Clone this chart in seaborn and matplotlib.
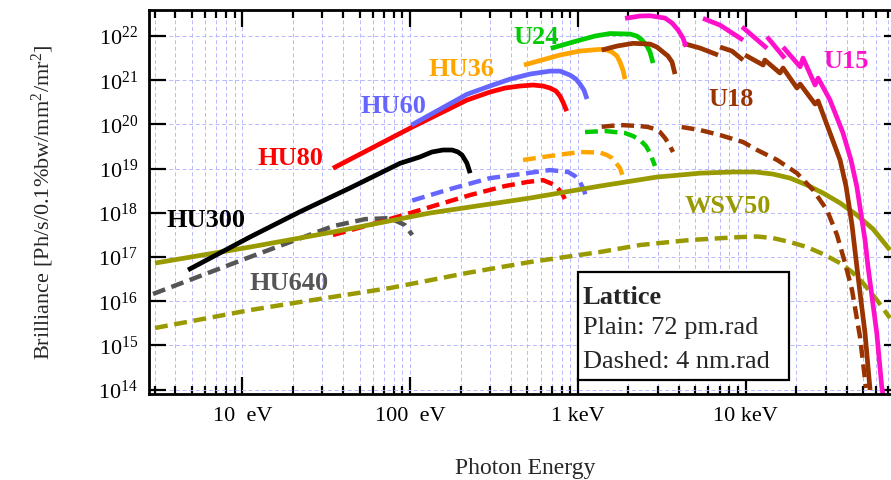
import numpy as np
import pandas as pd
import matplotlib
matplotlib.use("Agg")
import matplotlib.pyplot as plt
import seaborn as sns
from matplotlib.ticker import FixedLocator, FixedFormatter, LogLocator, NullLocator, LogFormatterMathtext
from matplotlib.patches import Rectangle

# ---------------- data (photon energy in eV, brilliance) ----------------
HU300_E = [4.75, 11.1, 22.1, 43.8, 87.1, 114, 135, 157, 178, 193, 204, 218, 228]
HU300_B = [5.1e16, 2.83e17, 1.06e18, 3.64e18, 1.32e19, 1.83e19, 2.38e19, 2.64e19, 2.64e19,
           2.38e19, 2.03e19, 1.34e19, 7.9e18]

HU640_E = [2.94, 11.1, 34.7, 53.9, 75.9, 93.2, 103]
HU640_B = [1.46e16, 1.0e17, 5.0e17, 7.2e17, 7.6e17, 5.3e17, 3.15e17]

HU80_E = [34.7, 104, 218, 299, 368, 452, 540, 620, 682, 740, 782, 815, 858]
HU80_B = [1.02e19, 8.9e19, 3.56e20, 5.4e20, 6.67e20, 7.4e20, 7.8e20, 7.4e20, 6.67e20, 5.7e20,
          4.4e20, 3.2e20, 2.0e20]
HU80d_E = [34.7, 66.2, 115, 228, 368, 498, 620, 730, 804, 858]
HU80d_B = [3.15e17, 6.2e17, 1.16e18, 2.53e18, 4.04e18, 4.98e18, 5.5e18, 4.26e18, 2.8e18, 1.67e18]

HU60_E = [102, 218, 299, 394, 518, 682, 782, 897, 975, 1029, 1087, 1133]
HU60_B = [9.7e19, 4.8e20, 7.4e20, 1.06e21, 1.38e21, 1.61e21, 1.61e21, 1.31e21, 1.06e21, 8.2e20,
          6.0e20, 3.76e20]
HU60d_E = [103, 173, 299, 498, 682, 873, 961, 1029, 1087, 1133]
HU60d_B = [1.9e18, 3.45e18, 6.1e18, 7.9e18, 9.3e18, 8.4e18, 6.8e18, 4.98e18, 3.28e18, 1.95e18]

HU36_E = [477, 782, 1029, 1355, 1490, 1597, 1710, 1782, 1857, 1909]
HU36_B = [2.21e21, 3.72e21, 4.58e21, 5.0e21, 4.82e21, 4.35e21, 3.53e21, 2.58e21, 1.7e21, 1.06e21]
HU36d_E = [471, 682, 1029, 1355, 1490, 1597, 1782, 1883]
HU36d_B = [1.57e19, 1.93e19, 2.38e19, 2.31e19, 2.03e19, 1.74e19, 1.03e19, 5.5e18]

U24_E = [689, 1029, 1264, 1553, 2045, 2250, 2410, 2580, 2690, 2805]
U24_B = [5.27e21, 8.1e21, 1.0e22, 1.14e22, 1.11e22, 1.0e22, 8.1e21, 5.94e21, 4.35e21, 2.45e21]
U24d_E = [1103, 1450, 1909, 2130, 2344, 2545, 2690, 2880]
U24d_B = [6.73e19, 7.1e19, 6.38e19, 5.47e19, 4.44e19, 3.25e19, 2.25e19, 1.15e19]

U18_E = [[1386, 1710, 2130, 2690, 2960, 3215, 3443, 3640, 3790],
         [4230, 5345, 6840],
         [7030, 8280, 9640],
         [9910, 12700, 13000, 16000, 16700, 20200, 21100, 25900, 27000, 31800,
          36500, 39600, 43000, 46000, 48600, 51400, 55100]]
U18_B = [[4.82e21, 5.94e21, 6.84e21, 6.59e21, 5.64e21, 4.35e21, 3.53e21, 2.58e21, 1.38e21],
         [6.84e21, 5.35e21, 3.72e21],
         [5.64e21, 4.58e21, 2.86e21],
         [3.72e21, 2.21e21, 2.86e21, 1.46e21, 1.89e21, 6.67e20, 8.2e20, 2.9e20, 3.4e20, 6.4e19,
          1.57e19, 4.04e18, 5.3e17, 5.9e16, 1.06e16, 1.91e15, 9.8e13]]
U18d_E = [[1386, 1782, 2344, 2618, 2880, 3085, 3305, 3490, 3690],
          [4155, 5345, 7030, 9640, 11700, 15400, 20200, 25200, 30500, 35000, 39100, 43000, 48000, 52100]]
U18d_B = [[8.87e19, 9.7e19, 9.2e19, 8.74e19, 7.87e19, 6.73e19, 4.92e19, 3.6e19, 2.38e19],
          [8.74e19, 7.47e19, 5.75e19, 4.0e19, 2.64e19, 1.57e19, 7.9e18, 3.28e18, 1.16e18, 3.15e17,
           7.3e16, 1.79e16, 1.55e15, 1.09e14]]

U15_E = [[1909, 2344, 2690, 3305, 3640, 3953, 4230, 4410],
         [5565, 7030, 9640],
         [9510, 13400],
         [13400, 17100],
         [16700, 21100, 21950, 25900, 27000, 31800, 38000, 42400, 46000, 51400, 53600, 60400, 64700, 66000]]
U15_B = [[2.51e22, 2.84e22, 2.88e22, 2.55e22, 1.97e22, 1.37e22, 9.0e21, 5.73e21],
         [2.51e22, 1.77e22, 8.1e21],
         [1.62e22, 5.27e21],
         [9.64e21, 3.13e21],
         [5.64e21, 2.02e21, 3.18e21, 7.8e20, 1.12e21, 3.56e20, 6.4e19, 1.57e19, 3.84e18, 2.43e17,
          5.9e16, 1.91e15, 1.15e14, 7e13]]

WSV50_E = [3.02, 11.1, 34.7, 131, 518, 1355, 2960, 4060, 5345, 8400, 11400, 14500, 18400, 23200,
           28900, 36500, 46000, 57400, 72400]
WSV50_B = [7.3e16, 1.68e17, 3.68e17, 9.9e17, 2.16e18, 4.04e18, 6.46e18, 7.17e18, 7.9e18, 8.4e18,
           8.4e18, 7.55e18, 6.1e18, 4.26e18, 2.8e18, 1.67e18, 8.9e17, 4.3e17, 1.44e17]
WSV50d_E = [3.02, 11.1, 22.1, 75.9, 218, 518, 1355, 2344, 4660, 9250, 11700, 14500, 18400, 23200,
            28900, 36500, 43000, 50000, 60600, 72400]
WSV50d_B = [2.48e15, 6.3e15, 9.6e15, 1.99e16, 4.35e16, 7.7e16, 1.3e17, 1.87e17, 2.43e17, 2.83e17,
            2.91e17, 2.69e17, 2.18e17, 1.68e17, 1.17e17, 7.3e16, 4.58e16, 2.58e16, 1.06e16, 4.17e15]

X_TICKS = [10, 100, 1000, 10000]
X_TICK_LABELS = ["10  eV", "100  eV", "1 keV", "10 keV"]
Y_TICKS = [1e14, 1e15, 1e16, 1e17, 1e18, 1e19, 1e20, 1e21, 1e22]

LABELS = ["HU300", "HU640", "HU80", "HU60", "HU36", "U24", "U18", "U15", "WSV50"]
LEGEND_LINES = ["Lattice", "Plain: 72 pm.rad", "Dashed: 4 nm.rad"]

# ---------------- style ----------------
sns.set_style("ticks")
plt.rcParams.update({
    "font.family": ["Liberation Serif", "DejaVu Serif"],
    "mathtext.fontset": "custom",
    "mathtext.rm": "Liberation Serif",
    "mathtext.it": "Liberation Serif:italic",
    "mathtext.bf": "Liberation Serif:bold",
    "axes.edgecolor": "black",
    "axes.linewidth": 2.0,
    "xtick.color": "black",
    "ytick.color": "black",
})

C = {"HU300": "#000000", "HU640": "#555555", "HU80": "#ff0000", "HU60": "#6666ff",
     "HU36": "#ffa500", "U24": "#00cc00", "U18": "#993300", "U15": "#ff11cc",
     "WSV50": "#999900"}

fig = plt.figure(figsize=(8.91, 4.8), dpi=100)
ax = fig.add_axes([0.1672, 0.1785, 0.8440, 0.8005])
ax.set_xscale("log")
ax.set_yscale("log")
ax.set_xlim(2.78, 84200)
ax.set_ylim(7.83e13, 3.87e22)

LW = 3.4
DASH = (0, (2.9, 1.5))


def draw(Es, Bs, color, dashed=False, z=2):
    if not isinstance(Es[0], list):
        Es, Bs = [Es], [Bs]
    rows = []
    for i, (e, b) in enumerate(zip(Es, Bs)):
        rows += [(ee, bb, i) for ee, bb in zip(e, b)]
    df = pd.DataFrame(rows, columns=["E", "B", "seg"])
    sns.lineplot(data=df, x="E", y="B", units="seg", estimator=None, sort=False,
                 color=color, lw=LW if not dashed else LW - 0.2,
                 linestyle=DASH if dashed else "-", ax=ax, legend=False, zorder=z,
                 solid_capstyle="butt", solid_joinstyle="round")


draw(WSV50d_E, WSV50d_B, C["WSV50"], dashed=True)
draw(HU640_E, HU640_B, C["HU640"], dashed=True)
draw(HU80d_E, HU80d_B, C["HU80"], dashed=True)
draw(HU60d_E, HU60d_B, C["HU60"], dashed=True)
draw(HU36d_E, HU36d_B, C["HU36"], dashed=True)
draw(U24d_E, U24d_B, C["U24"], dashed=True)
draw(WSV50_E, WSV50_B, C["WSV50"])
draw(U18d_E, U18d_B, C["U18"], dashed=True)
draw(HU300_E, HU300_B, C["HU300"])
draw(HU80_E, HU80_B, C["HU80"])
draw(HU60_E, HU60_B, C["HU60"])
draw(HU36_E, HU36_B, C["HU36"])
draw(U24_E, U24_B, C["U24"])
draw(U18_E, U18_B, C["U18"])
draw(U15_E, U15_B, C["U15"])

# labels (left, baseline)
label_pos = {"HU300": (3.54, 4.85e17), "HU640": (11.1, 1.79e16), "HU80": (12.4, 1.2e19),
             "HU60": (50.3, 1.78e20), "HU36": (128, 1.25e21), "U24": (410, 6.6e21),
             "U18": (5960, 2.6e20), "U15": (28900, 1.86e21), "WSV50": (4345, 9.75e17)}
for name in LABELS:
    x, y = label_pos[name]
    ax.text(x, y, name, color=C[name], fontsize=19, fontweight="bold",
            ha="left", va="baseline", zorder=5)

# axes / ticks
ax.xaxis.set_major_locator(FixedLocator(X_TICKS))
ax.xaxis.set_major_formatter(FixedFormatter(X_TICK_LABELS))
ax.xaxis.set_minor_locator(LogLocator(base=10, subs=np.arange(2, 10), numticks=20))
ax.yaxis.set_major_locator(FixedLocator(Y_TICKS))
ax.yaxis.set_major_formatter(LogFormatterMathtext())
ax.yaxis.set_minor_locator(NullLocator())
ax.tick_params(which="major", direction="in", length=12, width=1.6, top=True, right=True,
               labelsize=16)
ax.tick_params(axis="x", which="major", pad=9)
ax.tick_params(axis="y", which="major", pad=8)
ax.tick_params(which="minor", direction="in", length=6, width=1.6, top=True)

ax.set_axisbelow(True)
ax.grid(which="major", axis="both", color="#b8b8ff", lw=0.7, ls=(0, (4, 2.8)))
ax.grid(which="minor", axis="x", color="#b8b8ff", lw=0.7, ls=(0, (4, 2.8)))

ax.set_xlabel("Photon Energy", fontsize=17)
ax.set_ylabel("Brilliance [Ph/s/0.1%bw/mm$^{2}$/mr$^{2}$]", fontsize=16)
ax.xaxis.set_label_coords(0.5, -0.166)
ax.yaxis.set_label_coords(-0.124, 0.5)

# lattice box
ax.add_patch(Rectangle((0.570, 0.0372), 0.281, 0.2818, transform=ax.transAxes,
                       facecolor="white", edgecolor="black", lw=1.6, zorder=6))
ax.text(0.577, 0.235, LEGEND_LINES[0], transform=ax.transAxes, fontsize=19,
        fontweight="bold", va="baseline", ha="left", zorder=7)
ax.text(0.577, 0.156, LEGEND_LINES[1], transform=ax.transAxes, fontsize=19,
        va="baseline", ha="left", zorder=7)
ax.text(0.577, 0.069, LEGEND_LINES[2], transform=ax.transAxes, fontsize=19,
        va="baseline", ha="left", zorder=7)

fig.savefig("out.png", dpi=100)
